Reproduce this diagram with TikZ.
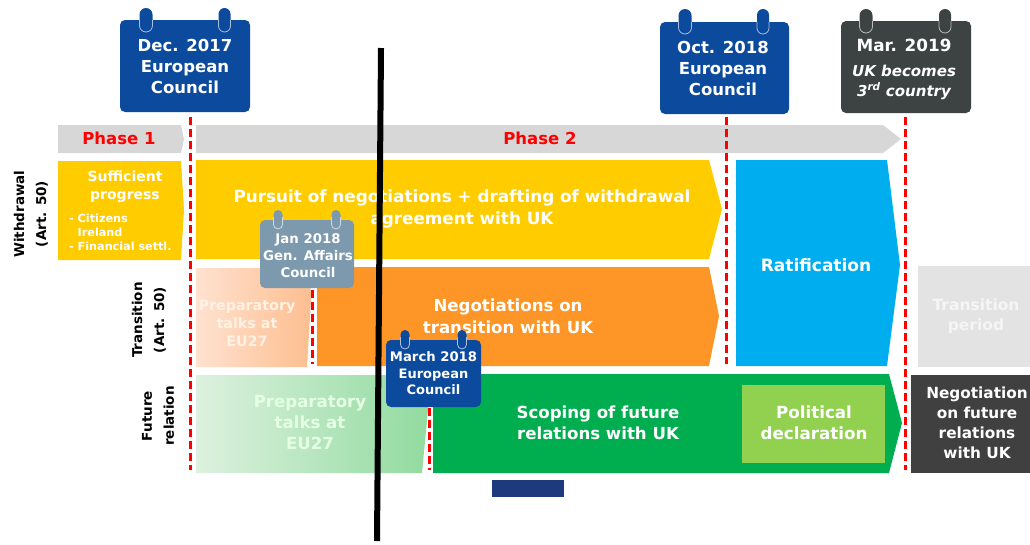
\documentclass[tikz,border=0pt]{standalone}
\usepackage{fontspec}
\setmainfont{DejaVu Sans}
\definecolor{ecblue}{HTML}{0C4A9E}
\definecolor{ecdark}{HTML}{3D4342}
\definecolor{ecslate}{HTML}{7C99AE}
\definecolor{barg}{HTML}{D7D7D7}
\definecolor{ecyel}{HTML}{FFCC00}
\definecolor{ecorg}{HTML}{FD9626}
\definecolor{ecgrn}{HTML}{00AE4F}
\definecolor{ecsky}{HTML}{00AEEF}
\definecolor{ecpol}{HTML}{92D050}
\definecolor{ecrow}{HTML}{404040}
\definecolor{ecpale}{HTML}{E3E3E3}
\definecolor{ecnavy}{HTML}{1C3A7C}
\definecolor{lightorgL}{HTML}{FFE2D0}
\definecolor{lightorgR}{HTML}{FDBE90}
\definecolor{lightgrnL}{HTML}{DDF1DF}
\definecolor{lightgrnR}{HTML}{92DB9F}
\tikzset{
  x=1pt,y=-1pt,
  lab/.style 2 args={font=\bfseries\fontsize{#1}{#2}\selectfont,text=white,align=center,inner sep=0pt},
  redcut/.style={red,line width=3pt,dash pattern=on 8pt off 4pt},
  side/.style={font=\bfseries\fontsize{13.5}{22}\selectfont,text=black,align=center,rotate=90,inner sep=0pt},
}
\newcommand{\calbody}[6]{% name,x0,y0,x1,y1,colour
  \path[fill=#6,rounded corners=5pt] (#2,#3) rectangle (#4,#5);
  \coordinate (#1) at (#2,#5);
}
\newcommand{\calring}[5]{% x,ytop,ybot,halfwidth,colour
  \path[fill=#5,rounded corners=#4pt] (#1-#4,#2) rectangle (#1+#4,#3);
  \draw[white!65!#5,line width=0.8pt,rounded corners=#4pt] (#1-#4,#3-12) -- (#1-#4,#3) -- (#1+#4,#3) -- (#1+#4,#3-12);
}
\begin{document}
\begin{tikzpicture}
\useasboundingbox (0,0) rectangle (1030,544);
% phase bars
\path[fill=barg] (58,125) -- (181,125) -- (184,139) -- (181,153) -- (58,153) -- cycle;
\path[fill=barg] (196,125) -- (883,125) -- (901,139) -- (883,153) -- (196,153) -- cycle;
\node[lab={16.5}{20},text=red] (ph1) at (119,138) {Phase 1};
\node[lab={16.5}{20},text=red] (ph2) at (540,138) {Phase 2};
% row shapes
\path[fill=ecyel] (58,161) -- (181,161) -- (184,210) -- (181,260) -- (58,260) -- cycle;
\path[fill=ecyel] (196,160) -- (709,160) -- (722,209) -- (709,259) -- (196,259) -- cycle;
\shade[left color=lightorgL,right color=lightorgR] (196,268) -- (310,268) -- (311,300) -- (307,367) -- (196,367) -- cycle;
\path[fill=ecorg] (317,267) -- (709,267) -- (719,316) -- (709,366) -- (317,366) -- cycle;
\shade[left color=lightgrnL,right color=lightgrnR] (196,375) -- (428,375) -- (428,410) -- (422,473) -- (196,473) -- cycle;
\path[fill=ecgrn] (433,374) -- (889,374) -- (902,423) -- (889,473) -- (433,473) -- cycle;
\path[fill=ecpol] (742,385) rectangle (885,463);
\path[fill=ecsky] (736,160) -- (887,160) -- (900,265) -- (887,366) -- (736,366) -- cycle;
\path[fill=ecpale] (918,266) rectangle (1030,367);
\path[fill=ecrow] (911,375) rectangle (1030,473);
\path[fill=ecnavy] (492,480) rectangle (564,497);
% row labels
\node[side] (sw) at (31,214) {Withdrawal\\(Art. 50)};
\node[side] (st) at (149,320) {Transition\\(Art. 50)};
\node[side] (sf) at (158,416) {Future\\relation};
% texts
\node[lab={14}{18}] (suff) at (125,187) {Sufficient\\progress};
\node[font=\bfseries\fontsize{11.2}{14}\selectfont,text=white,align=left,inner sep=0pt,anchor=west] (lst) at (69,232) {- Citizens\\\phantom{- }Ireland\\- Financial settl.};
\node[lab={16.8}{22}] (pur) at (462,209) {Pursuit of negotiations + drafting of withdrawal\\agreement with UK};
\node[lab={14.3}{18},text=white!90!orange] (pt1) at (247,323) {Preparatory\\talks at\\EU27};
\node[lab={16.6}{22}] (neg) at (508,316) {Negotiations on\\transition with UK};
\node[lab={16.6}{21},text=white!90!green] (pt2) at (310,423) {Preparatory\\talks at\\EU27};
\node[lab={16.6}{21}] (sco) at (598,423) {Scoping of future\\relations with UK};
\node[lab={16.7}{21}] (pol) at (814,423) {Political\\declaration};
\node[lab={17}{20}] (rat) at (816,265) {Ratification};
\node[lab={15.5}{20},text=white!92!gray] (tp) at (976,316) {Transition\\period};
\node[lab={15.3}{20}] (nf) at (977,423) {Negotiation\\on future\\relations\\with UK};
% dashed lines
\coordinate (d1t) at (190,117); \coordinate (d1b) at (190,470);
\coordinate (d2t) at (726,117); \coordinate (d2b) at (726,364);
\coordinate (d3t) at (905,117); \coordinate (d3b) at (905,470);
\coordinate (d4t) at (312,290); \coordinate (d4b) at (312,364);
\coordinate (d5t) at (429,408); \coordinate (d5b) at (429,470);
\draw[redcut] (d1t) -- (d1b);
\draw[redcut] (d2t) -- (d2b);
\draw[redcut] (d3t) -- (d3b);
\draw[redcut] (d4t) -- (d4b);
\draw[redcut] (d5t) -- (d5b);
% calendars
\calbody{c1}{120}{20}{250}{112}{ecblue}
\calring{146}{8}{32}{6.5}{ecblue}\calring{224.5}{8}{32}{6}{ecblue}
\node[lab={16.5}{21}] (c1t) at (185,66) {Dec. 2017\\European\\Council};
\calbody{c2}{660}{22}{789}{114}{ecblue}
\calring{685}{9}{34}{6.5}{ecblue}\calring{763}{9}{34}{6}{ecblue}
\node[lab={16.5}{21}] (c2t) at (723,68) {Oct. 2018\\European\\Council};
\calbody{c3}{841}{21}{971}{113}{ecdark}
\calring{866}{9}{33}{6.5}{ecdark}\calring{945}{9}{33}{6}{ecdark}
\node[lab={16.8}{21}] (c3t) at (904,45) {Mar. 2019};
\node[font=\bfseries\itshape\fontsize{15}{20}\selectfont,text=white,align=center,inner sep=0pt] (c3s) at (904,82) {UK becomes\\3\textsuperscript{rd} country};
\calbody{c4}{260}{220}{354}{288}{ecslate}
\calring{278}{210}{229}{4.5}{ecslate}\calring{336}{210}{229}{4.5}{ecslate}
\node[lab={13.3}{17}] (c4t) at (308,256) {Jan 2018\\Gen. Affairs\\Council};
\calbody{c5}{386}{340}{481}{407}{ecblue}
\calring{405}{330}{349}{4.5}{ecblue}\calring{462}{330}{349}{4.5}{ecblue}
\node[lab={13.2}{17}] (c5a) at (433.5,357) {March 2018};
\node[lab={13}{16.5}] (c5b) at (433.5,382) {European\\Council};
% black line
\coordinate (blt) at (381,48); \coordinate (blb) at (377,541);
\draw[black,line width=6pt] (blt) -- (blb);
\end{tikzpicture}
\end{document}
